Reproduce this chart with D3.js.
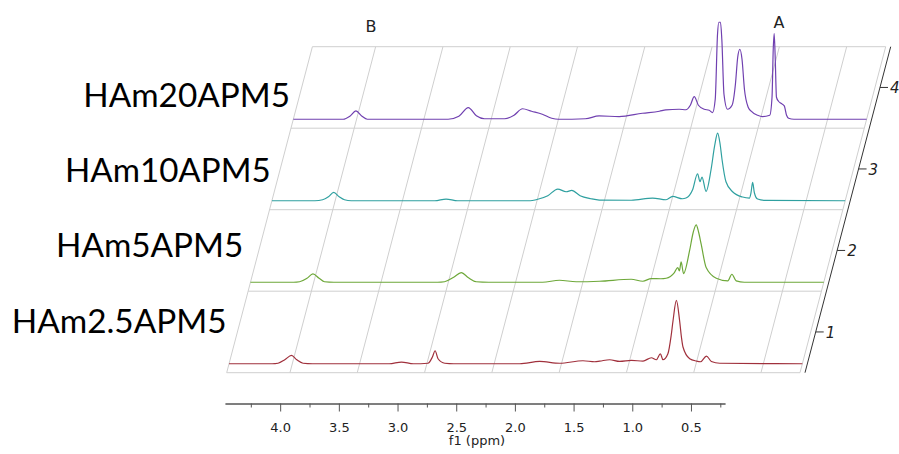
<!DOCTYPE html>
<html>
<head>
<meta charset="utf-8">
<style>
  body { margin: 0; background: #fff; }
  .grid { stroke: #cfcfcf; stroke-width: 1; fill: none; }
  .trace { fill: none; stroke-width: 1.2; }
  .name { font-family: Lato, "Open Sans", sans-serif; font-size: 33px; fill: #000; }
  .depth-label { font-family: "DejaVu Sans", sans-serif; font-size: 15px; font-style: italic; fill: #222; }
  .peak-label { font-family: "DejaVu Sans", sans-serif; font-size: 16px; fill: #222; }
  .axis text { font-family: "DejaVu Sans", sans-serif; font-size: 13px; fill: #222; }
  .axis path, .axis line { stroke: #555; }
</style>
</head>
<body>
<svg width="899" height="454"></svg>
<script src="https://cdnjs.cloudflare.com/ajax/libs/d3/7.8.5/d3.min.js"></script>
<script>
// sample names, front to back
var names = ["HAm2.5APM5", "HAm5APM5", "HAm10APM5", "HAm20APM5"];
var colors = ["#a0303c", "#6ea83a", "#2fa0a0", "#7040b0"];
var depthTicks = ["1", "2", "3", "4"];
var ppmTicks = [4.0, 3.5, 3.0, 2.5, 2.0, 1.5, 1.0, 0.5];
var ppmMinor = [4.25, 3.75, 3.25, 2.75, 2.25, 1.75, 1.25, 0.75, 0.25];

// spectra: [ppm, intensity]
var spec25 = [[4.47,0],[4.15,0],[4.106,0.5],[4.056,4],[4.006,8.3],[3.967,4],[3.92,0.5],[3.85,0],
  [3.28,0],[3.189,1.7],[3.10,0],
  [2.992,0.5],[2.959,6.7],[2.939,13],[2.917,5],[2.867,0.5],[2.80,0],
  [2.31,0],[2.162,2.3],[2.013,0.5],[1.840,3],[1.753,2],[1.716,2.6],[1.642,4],[1.567,2.3],[1.480,3.3],
  [1.394,2.7],[1.332,6],[1.295,4],[1.265,10],[1.246,4],[1.209,10],[1.185,28],[1.171,43],[1.146,63.3],
  [1.122,43],[1.108,26],[1.097,16.7],[1.047,5],[0.998,2.7],[0.966,2],[0.923,7.7],[0.886,2.3],[0.824,0.5],[0.21,0]];

var spec5 = [[4.47,0],[4.15,0],[4.105,0.5],[4.05,4],[4.006,8.3],[3.96,4],[3.92,0.5],[3.85,0],
  [3.08,0],[3.028,0.5],[2.96,5],[2.904,9.7],[2.85,4.5],[2.792,0.5],[2.70,0],
  [2.30,0],[2.174,2],[2.05,0.5],[1.876,1],[1.641,3],[1.555,1],[1.492,3.7],[1.42,3.5],[1.381,4],
  [1.320,9.7],[1.295,14.7],[1.283,11.3],[1.270,20.3],[1.252,8.7],[1.208,31],[1.18,50],[1.158,57.3],
  [1.14,50],[1.121,38],[1.084,14.7],[1.009,4],[0.923,1.3],[0.893,8],[0.861,1.3],[0.80,0],[0.21,0]];

var spec10 = [[4.47,0],[4.15,0],[4.093,1],[4.05,4],[4.011,8.3],[3.97,4],[3.931,1],[3.88,0],
  [3.26,0],[3.176,1.7],[3.09,0],
  [2.55,0],[2.507,1],[2.42,5],[2.346,11.7],[2.284,9],[2.242,10.3],[2.18,5],[2.10,2],[2.037,0.7],
  [1.80,0.5],[1.641,2.7],[1.541,1],[1.492,4.3],[1.42,2],[1.393,2.7],[1.344,11],[1.307,27],[1.289,19],
  [1.274,23.7],[1.244,9.3],[1.207,31],[1.18,55],[1.158,67.7],[1.14,57],[1.125,41],[1.096,19],
  [1.047,9],[0.972,3.7],[0.922,2.7],[0.91,8],[0.898,18.3],[0.885,8],[0.861,1.7],[0.80,0.3],[0.21,0]];

var spec20 = [[4.47,0],[4.10,0],[4.05,3],[4.005,8.3],[3.96,3],[3.92,0],
  [3.32,0],[3.24,3],[3.17,11.7],[3.11,3.5],[3.05,0.5],
  [2.90,0.5],[2.83,4],[2.767,10.5],[2.70,8],[2.62,5],[2.55,1],[2.50,0],
  [2.30,0.5],[2.198,3.3],[2.049,2.7],[1.876,6],[1.75,8],[1.702,9.3],[1.603,10],[1.553,9.5],[1.52,14],
  [1.491,22.7],[1.46,14],[1.417,10],[1.38,9],[1.355,6.7],[1.335,20],[1.318,85],[1.308,97],[1.296,97],
  [1.286,80],[1.27,25],[1.244,10],[1.21,14],[1.185,35],[1.168,62],[1.152,70],[1.136,60],[1.118,30],
  [1.09,12],[1.070,8.3],[1.02,4],[0.984,2.7],[0.93,4],[0.913,22],[0.904,70],[0.897,85.7],[0.889,60],
  [0.88,22],[0.865,18],[0.847,16],[0.822,13.3],[0.805,4],[0.79,1],[0.75,0],[0.21,0]];

var spectra = [spec25, spec5, spec10, spec20];

// label positions for the sample names (left x, baseline y, width)
var nameX = [11.7, 56, 65, 83.3];
var nameY = [332.7, 257.3, 181.7, 107.3];
var nameW = [215, 187.3, 205.7, 206.7];

var svg = d3.select("svg");

// oblique stacked view
var xPlane = d3.scaleLinear().domain([4.47, 0.21]).range([226.7, 800]);
var depthY = d3.scaleLinear().domain([0, 4]).range([372.7, 46.7]);
var depthX = d3.scaleLinear().domain([0, 4]).range([0, 85.7]);
var amp = d3.scaleLinear().domain([0, 100]).range([0, 100]);
var traceOffset = 0.11;

function px(ppm, d) { return xPlane(ppm) + depthX(d); }

var g = svg.append("g");

// slanted grid lines
g.selectAll(".vgrid")
  .data([4.47].concat(ppmTicks, [0.21]))
  .enter().append("line")
  .attr("class", "grid")
  .attr("x1", function(d) { return px(d, 0); })
  .attr("y1", depthY(0))
  .attr("x2", function(d) { return px(d, 4); })
  .attr("y2", depthY(4));

// band lines
g.selectAll(".hgrid")
  .data([0, 1, 2, 3, 4])
  .enter().append("line")
  .attr("class", "grid")
  .attr("x1", function(d) { return px(4.47, d); })
  .attr("y1", function(d) { return depthY(d); })
  .attr("x2", function(d) { return px(0.21, d); })
  .attr("y2", function(d) { return depthY(d); });

// traces
spectra.forEach(function(s, i) {
  var d = i + traceOffset;
  var line = d3.line()
    .x(function(p) { return px(p[0], d); })
    .y(function(p) { return depthY(d) - amp(p[1]); })
    .curve(d3.curveMonotoneX);
  g.append("path")
    .attr("class", "trace")
    .attr("stroke", colors[i])
    .attr("d", line(s));
});

// depth axis on the right
var axOff = 5;
g.append("line")
  .attr("x1", px(0.21, 0) + axOff).attr("y1", depthY(0))
  .attr("x2", px(0.21, 4) + axOff).attr("y2", depthY(4))
  .attr("stroke", "#333");

depthTicks.forEach(function(t, i) {
  var d = i + 0.5;
  var x = px(0.21, d) + axOff, y = depthY(d);
  g.append("line")
    .attr("x1", x).attr("y1", y).attr("x2", x + 8).attr("y2", y)
    .attr("stroke", "#333");
  g.append("text")
    .attr("class", "depth-label")
    .attr("x", x + 10).attr("y", y + 6)
    .text(t);
});

// sample names
names.forEach(function(n, i) {
  svg.append("text")
    .attr("class", "name")
    .attr("x", nameX[i]).attr("y", nameY[i])
    .attr("textLength", nameW[i])
    .attr("lengthAdjust", "spacingAndGlyphs")
    .text(n);
});

// peak annotations
svg.append("text").attr("class", "peak-label")
  .attr("x", 371).attr("y", 32).attr("text-anchor", "middle").text("B");
svg.append("text").attr("class", "peak-label")
  .attr("x", 779).attr("y", 28).attr("text-anchor", "middle").text("A");

// bottom ppm axis
var xAxis = d3.scaleLinear().domain([4.47, 0.21]).range([225, 725]);

svg.append("g")
  .attr("class", "axis")
  .attr("transform", "translate(0,403.5)")
  .call(d3.axisBottom(xAxis).tickValues(ppmMinor).tickSize(4).tickSizeOuter(0).tickFormat(""));

svg.append("g")
  .attr("class", "axis")
  .attr("transform", "translate(0,403.5)")
  .call(d3.axisBottom(xAxis).tickValues(ppmTicks).tickSize(8).tickSizeOuter(0).tickPadding(11)
    .tickFormat(d3.format(".1f")));

svg.append("text")
  .attr("x", 477).attr("y", 445)
  .attr("text-anchor", "middle")
  .style("font-family", "'DejaVu Sans', sans-serif")
  .style("font-size", "13px")
  .attr("fill", "#222")
  .text("f1 (ppm)");
</script>
</body>
</html>
